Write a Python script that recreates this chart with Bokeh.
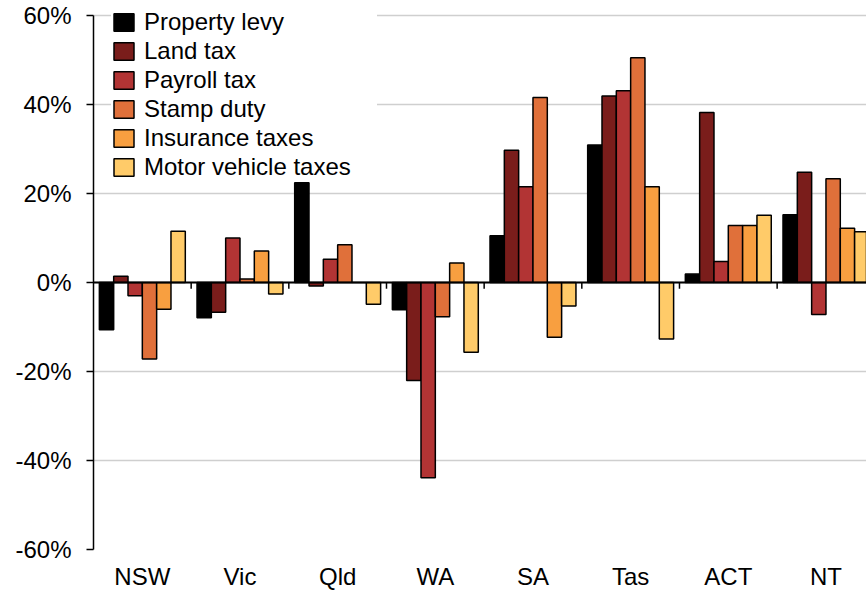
from bokeh.plotting import figure
from bokeh.models import Range1d, FixedTicker, PrintfTickFormatter, Span, Legend, LegendItem, ColumnDataSource
from bokeh.embed import file_html
from bokeh.resources import INLINE

states = ["NSW", "Vic", "Qld", "WA", "SA", "Tas", "ACT", "NT"]
series = ["Property levy", "Land tax", "Payroll tax", "Stamp duty", "Insurance taxes", "Motor vehicle taxes"]
colors = ["#000000", "#7A1D1B", "#B23434", "#E0703A", "#F89F40", "#FFCB69"]

property_levy = [-10.6, -7.9, 22.4, -6.1, 10.5, 30.9, 1.9, 15.2]
land_tax = [1.4, -6.7, -0.8, -22.0, 29.7, 41.9, 38.2, 24.8]
payroll_tax = [-3.0, 10.0, 5.2, -43.9, 21.5, 43.1, 4.7, -7.2]
stamp_duty = [-17.2, 0.8, 8.5, -7.7, 41.6, 50.5, 12.8, 23.3]
insurance_taxes = [-6.0, 7.1, 0.0, 4.4, -12.3, 21.5, 12.8, 12.2]
motor_vehicle_taxes = [11.5, -2.6, -4.9, -15.7, -5.3, -12.7, 15.1, 11.4]

values = [property_levy, land_tax, payroll_tax, stamp_duty, insurance_taxes, motor_vehicle_taxes]
y_ticks = [-60, -40, -20, 0, 20, 40, 60]

FONT = "Liberation Sans"
FS = "24px"

p = figure(width=866, height=592, output_backend="svg", toolbar_location=None,
           x_range=Range1d(0, 7.915), y_range=Range1d(-60, 63.37),
           min_border_left=93, min_border_right=0, min_border_top=0, min_border_bottom=43)
p.outline_line_color = None
p.background_fill_color = "white"

n = len(series)
bw = 0.88 / n
renderers = []
for i, (name, vals, col) in enumerate(zip(series, values, colors)):
    xs = [k + 0.06 + (i + 0.5) * bw for k in range(len(states))]
    src = ColumnDataSource(dict(x=xs, top=vals))
    r = p.vbar(x="x", top="top", bottom=0, width=bw, source=src,
               fill_color=col, line_color="black", line_width=1.5)
    renderers.append(r)

# zero line and category boundary ticks
p.add_layout(Span(location=0, dimension="width", line_color="black", line_width=2))
bx = list(range(1, len(states)))
p.segment(x0=bx, x1=bx, y0=[0] * len(bx), y1=[-1.4] * len(bx), line_color="black", line_width=1.5)

# y axis
p.yaxis.ticker = FixedTicker(ticks=y_ticks)
p.yaxis.formatter = PrintfTickFormatter(format="%d%%")
p.yaxis.bounds = (-60, 60)
p.yaxis.axis_line_color = "black"
p.yaxis.axis_line_width = 1.5
p.yaxis.major_tick_line_color = "black"
p.yaxis.major_tick_line_width = 1.5
p.yaxis.major_tick_out = 7
p.yaxis.major_tick_in = 0
p.yaxis.minor_tick_line_color = None
p.yaxis.major_label_standoff = 15
p.yaxis.major_label_text_font = FONT
p.yaxis.major_label_text_font_size = FS
p.yaxis.major_label_text_color = "black"

# x axis
p.xaxis.ticker = FixedTicker(ticks=[k + 0.5 for k in range(len(states))])
p.xaxis.major_label_overrides = {k + 0.5: s for k, s in enumerate(states)}
p.xaxis.axis_line_color = None
p.xaxis.major_tick_line_color = None
p.xaxis.minor_tick_line_color = None
p.xaxis.major_tick_out = 0
p.xaxis.major_tick_in = 0
p.xaxis.major_label_standoff = 13
p.xaxis.major_label_text_font = FONT
p.xaxis.major_label_text_font_size = FS
p.xaxis.major_label_text_color = "black"

# grid
p.xgrid.grid_line_color = None
p.ygrid.ticker = FixedTicker(ticks=y_ticks)
p.ygrid.grid_line_color = "#CFCFCF"
p.ygrid.grid_line_width = 1.5

legend = Legend(items=[LegendItem(label=s, renderers=[r]) for s, r in zip(series, renderers)],
                location=(18, 368), padding=0, margin=0, spacing=1,
                glyph_width=25, glyph_height=22, label_height=22, label_width=233,
                label_standoff=8, label_text_font=FONT, label_text_font_size=FS,
                label_text_color="black", border_line_color=None,
                background_fill_color="white", background_fill_alpha=1.0)
p.add_layout(legend)

open("out.html", "w").write(file_html(p, INLINE))
